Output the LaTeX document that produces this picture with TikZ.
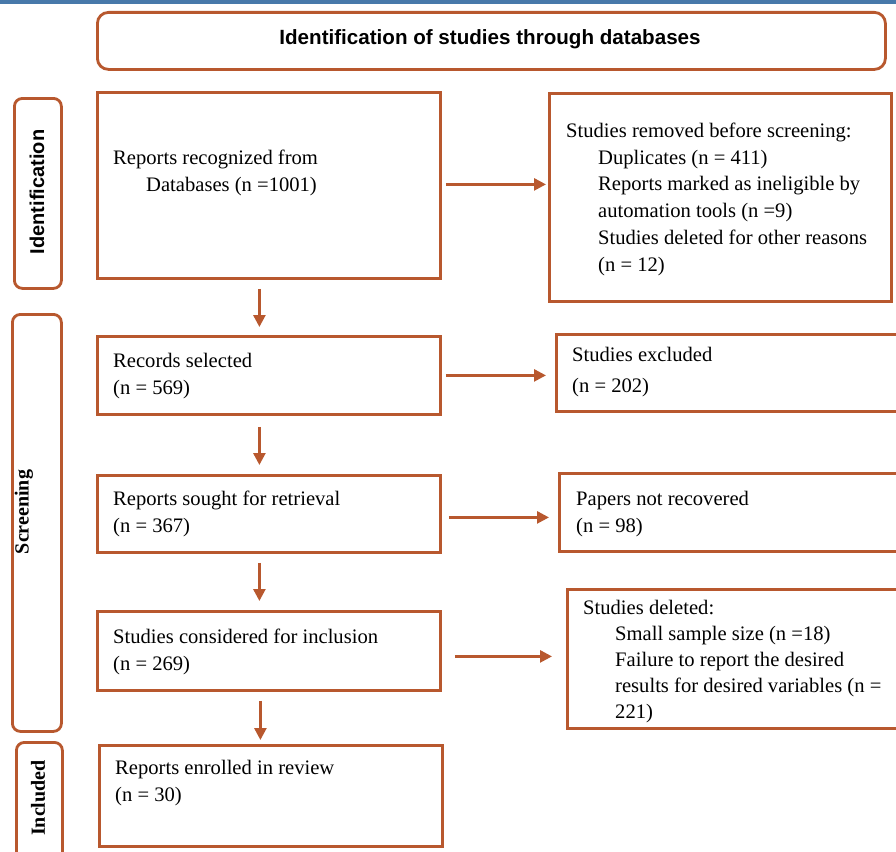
\documentclass[tikz,border=0pt]{standalone}
\usepackage{fontspec}
\setmainfont{Liberation Serif}
\newfontfamily\arialfont{Liberation Sans}
\usetikzlibrary{arrows.meta,calc}
\definecolor{brd}{RGB}{184,88,46}
\definecolor{topbar}{RGB}{72,121,170}
\begin{document}
\begin{tikzpicture}[x=1pt,y=-1pt,
  frame/.style={draw=brd,line width=2.8pt,anchor=north west,inner sep=0pt,fill=white},
  sidebox/.style={frame,rounded corners=8pt},
  txt/.style={anchor=north west,inner sep=0pt,align=left,font=\fontsize{20.6}{27}\selectfont},
  sidelbl/.style={rotate=90,inner sep=0pt,font=\fontsize{20}{24}\selectfont\bfseries},
  flow/.style={draw=brd,line width=2.6pt,-{Triangle[length=12pt,width=12pt]}}]
\clip (0,0) rectangle (896,851);
\fill[white] (0,0) rectangle (896,851);
\fill[topbar] (0,0) rectangle (896,4);
% title
\node[sidebox,rounded corners=11pt,minimum width=788pt,minimum height=57pt] (title) at (96,11) {};
\node[inner sep=0pt,font=\arialfont\bfseries\fontsize{20.6}{24}\selectfont] (ttl) at (490,39) {Identification of studies through databases};
% side boxes
\node[sidebox,minimum width=47pt,minimum height=190pt] (sid1) at (13,97) {};
\node[sidebox,minimum width=49pt,minimum height=417pt] (sid2) at (11,313) {};
\node[sidebox,minimum width=46pt,minimum height=130pt] (sid3) at (15,741) {};
\node[sidelbl,font=\arialfont\bfseries\fontsize{20}{24}\selectfont] (l1) at (37,192) {Identification};
\node[sidelbl] (l2) at (24,512) {Screening};
\node[sidelbl] (l3) at (38,798) {Included};
% main boxes
\node[frame,minimum width=343pt,minimum height=186pt] (b1) at (96,91) {};
\node[frame,minimum width=343pt,minimum height=78pt] (b2) at (96,335) {};
\node[frame,minimum width=343pt,minimum height=77pt] (b3) at (96,474) {};
\node[frame,minimum width=343pt,minimum height=79pt] (b4) at (96,610) {};
\node[frame,minimum width=343pt,minimum height=101pt] (b5) at (98,744) {};
% right boxes
\node[frame,minimum width=342pt,minimum height=208pt] (r1) at (548,92) {};
\node[frame,minimum width=360pt,minimum height=77pt] (r2) at (555,333) {};
\node[frame,minimum width=360pt,minimum height=78pt] (r3) at (558,472) {};
\node[frame,minimum width=350pt,minimum height=139pt] (r4) at (566,588) {};
% texts
\node[txt] (t1) at (113,149.5) {Reports recognized from\\\hspace*{33pt}Databases (n =1001)};
\node[txt] (t2) at (113,353.5) {Records selected\\(n = 569)};
\node[txt] (t3) at (113,490.5) {Reports sought for retrieval\\(n = 367)};
\node[txt] (t4) at (113,628.5) {Studies considered for inclusion\\(n = 269)};
\node[txt] (t5) at (115,759.5) {Reports enrolled in review\\(n = 30)};
\node[txt,font=\fontsize{20.6}{26.8}\selectfont] (u1) at (566,122.5) {Studies removed before screening:\\
\hspace*{32pt}Duplicates (n = 411)\\
\hspace*{32pt}Reports marked as ineligible by\\
\hspace*{32pt}automation tools (n =9)\\
\hspace*{32pt}Studies deleted for other reasons\\
\hspace*{32pt}(n = 12)};
\node[txt,font=\fontsize{20.6}{31}\selectfont] (u2) at (572,347.5) {Studies excluded\\(n = 202)};
\node[txt] (u3) at (576,491) {Papers not recovered\\(n = 98)};
\node[txt,font=\fontsize{20.6}{26}\selectfont] (u4) at (583,599.5) {Studies deleted:\\
\hspace*{32pt}Small sample size (n =18)\\
\hspace*{32pt}Failure to report the desired\\
\hspace*{32pt}results for desired variables (n =\\
\hspace*{32pt}221)};
% horizontal arrows
\draw[flow,shorten <=4pt,shorten >=2pt] ([yshift=1pt]b1.east) -- ([yshift=1pt]b1.east -| r1.west);
\draw[flow,shorten <=4pt,shorten >=9pt] (b2.east) -- (b2.east -| r2.west);
\draw[flow,shorten <=7pt,shorten >=9pt] ([yshift=-3.5pt]b3.east) -- ([yshift=-3.5pt]b3.east -| r3.west);
\draw[flow,shorten <=13pt,shorten >=14pt] ([yshift=-5.5pt]b4.east) -- ([yshift=-5.5pt]b4.east -| r4.west);
% vertical arrows
\draw[flow,shorten <=9pt,shorten >=8pt] ([xshift=-9.5pt]b1.south) -- ([xshift=-9.5pt]b1.south |- b2.north);
\draw[flow,shorten <=11pt,shorten >=9pt] ([xshift=-9.5pt]b2.south) -- ([xshift=-9.5pt]b2.south |- b3.north);
\draw[flow,shorten <=9pt,shorten >=9pt] ([xshift=-9.5pt]b3.south) -- ([xshift=-9.5pt]b3.south |- b4.north);
\draw[flow,shorten <=9pt,shorten >=4pt] ([xshift=-8.5pt]b4.south) -- ([xshift=-8.5pt]b4.south |- b5.north);
\end{tikzpicture}
\end{document}
